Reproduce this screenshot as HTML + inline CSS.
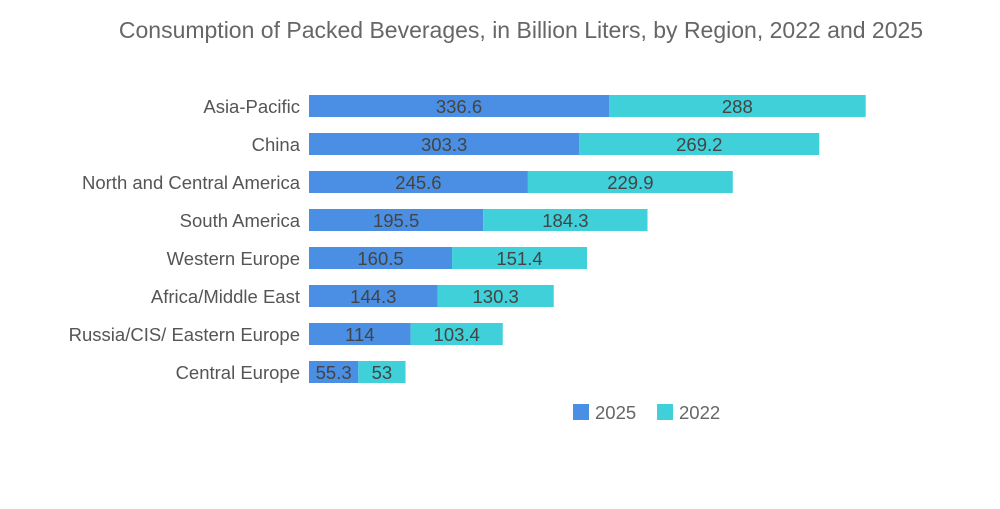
<!DOCTYPE html>
<html><head><meta charset="utf-8"><style>
body{margin:0;background:#fff;}
svg{font-family:"Liberation Sans",sans-serif;}
</style></head><body>
<svg id="chart" width="1000" height="504">
<text x="521" y="38" text-anchor="middle" font-size="23" fill="#666">Consumption of Packed Beverages, in Billion Liters, by Region, 2022 and 2025</text>
<g id="bars"></g>
<g>
<rect x="573" y="404" width="16" height="16" fill="#4a8fe3"/>
<text x="595" y="419" font-size="18.5" fill="#666">2025</text>
<rect x="657" y="404" width="16" height="16" fill="#3fd0da"/>
<text x="679" y="419" font-size="18.5" fill="#666">2022</text>
</g>
</svg>
<script>
const categories=["Asia-Pacific","China","North and Central America","South America","Western Europe","Africa/Middle East","Russia/CIS/ Eastern Europe","Central Europe"];
const values2025=[336.6,303.3,245.6,195.5,160.5,144.3,114,55.3];
const values2022=[288,269.2,229.9,184.3,151.4,130.3,103.4,53];
const x0=309, scale=300/336.6, y0=106, step=38, bh=22;
const xs=v=>v*scale;
const g=document.getElementById('bars');
const NS='http://www.w3.org/2000/svg';
function mk(t,a){const e=document.createElementNS(NS,t);for(const k in a)e.setAttribute(k,a[k]);return e;}
categories.forEach((c,i)=>{
  const yc=y0+i*step;
  const lab=mk('text',{x:300,y:yc+7,'text-anchor':'end','font-size':18.5,fill:'#555'});
  lab.textContent=c;
  
  
  g.appendChild(lab);
  const w1=xs(values2025[i]), w2=xs(values2022[i]);
  const r1=mk('rect',{x:x0,y:yc-bh/2,width:w1,height:bh,fill:'#4a8fe3'});
  
  
  g.appendChild(r1);
  const r2=mk('rect',{x:x0+w1,y:yc-bh/2,width:w2,height:bh,fill:'#3fd0da'});
  
  
  g.appendChild(r2);
  const t1=mk('text',{x:x0+w1/2,y:yc+7,'text-anchor':'middle','font-size':18.5,fill:'#444'});
  t1.textContent=values2025[i];
  
  
  g.appendChild(t1);
  const t2=mk('text',{x:x0+w1+w2/2,y:yc+7,'text-anchor':'middle','font-size':18.5,fill:'#444'});
  t2.textContent=values2022[i];
  
  
  g.appendChild(t2);
});
</script>
</body></html>
